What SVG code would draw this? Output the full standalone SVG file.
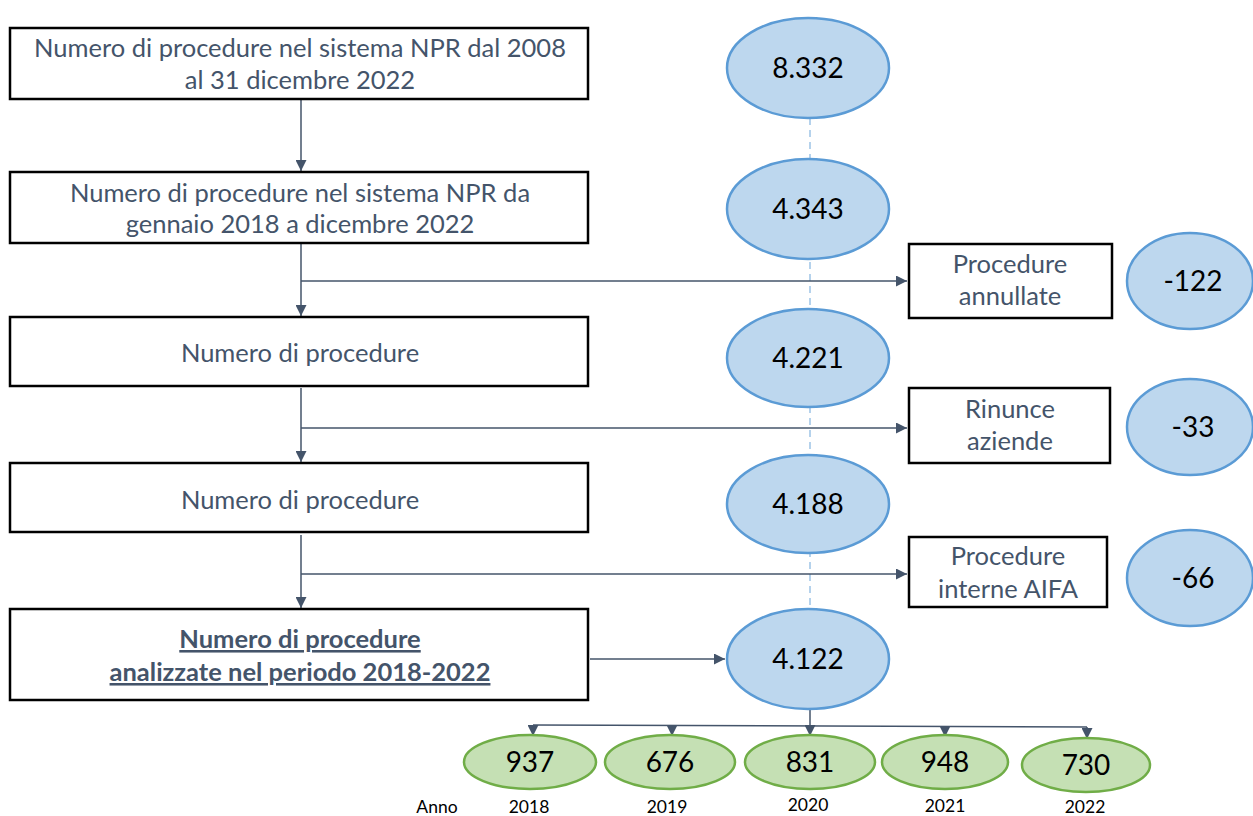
<svg xmlns="http://www.w3.org/2000/svg" width="1253" height="816" viewBox="0 0 1253 816">
<defs>
<marker id="ah" viewBox="0 0 10 10" refX="10" refY="5" markerWidth="11" markerHeight="11" markerUnits="userSpaceOnUse" orient="auto">
<path d="M0,0 L10,5 L0,10 z" fill="#44546a"/>
</marker>
<style>
.box{fill:#fff;stroke:#000;stroke-width:2.5}
.bt{font-family:Lato,"Liberation Sans",sans-serif;font-size:25.5px;fill:#44546a;text-anchor:middle}
.bold{font-weight:bold;text-decoration:underline}
.be{fill:#bdd7ee;stroke:#5b9bd5;stroke-width:2.5}
.ge{fill:#c5e0b4;stroke:#70ad47;stroke-width:2.5}
.num{font-family:Lato,"Liberation Sans",sans-serif;font-size:28px;fill:#000;text-anchor:middle}
.gnum{font-family:Lato,"Liberation Sans",sans-serif;font-size:28px;fill:#000;text-anchor:middle}
.yr{font-family:Lato,"Liberation Sans",sans-serif;font-size:17.5px;fill:#000;text-anchor:middle}
.ln{stroke:#44546a;stroke-width:1.5;fill:none}
.dash{stroke:#9dc3e6;stroke-width:1.5;stroke-dasharray:7,5;fill:none}
</style>
</defs>
<rect width="1253" height="816" fill="#fff"/>

<g id="connectors">
<line class="dash" x1="810" y1="118" x2="810" y2="610"/>
<line class="ln" x1="301" y1="99" x2="301" y2="171" marker-end="url(#ah)"/>
<line class="ln" x1="301" y1="243" x2="301" y2="316" marker-end="url(#ah)"/>
<line class="ln" x1="301" y1="281" x2="907" y2="281" marker-end="url(#ah)"/>
<line class="ln" x1="301" y1="388" x2="301" y2="462" marker-end="url(#ah)"/>
<line class="ln" x1="301" y1="428" x2="907" y2="428" marker-end="url(#ah)"/>
<line class="ln" x1="301" y1="535" x2="301" y2="608" marker-end="url(#ah)"/>
<line class="ln" x1="301" y1="574" x2="907" y2="574" marker-end="url(#ah)"/>
<line class="ln" x1="590" y1="659" x2="725" y2="659" marker-end="url(#ah)"/>
<line class="ln" x1="810" y1="710" x2="810" y2="736" marker-end="url(#ah)"/>
<line class="ln" x1="533" y1="725" x2="1087" y2="727"/>
<line class="ln" x1="533" y1="725" x2="533" y2="736" marker-end="url(#ah)"/>
<line class="ln" x1="672" y1="725" x2="672" y2="736" marker-end="url(#ah)"/>
<line class="ln" x1="945" y1="726" x2="945" y2="737" marker-end="url(#ah)"/>
<line class="ln" x1="1087" y1="727" x2="1087" y2="739" marker-end="url(#ah)"/>
</g>

<g id="box1"><rect class="box" x="10" y="28" width="578" height="71"/>
<text class="bt" x="300" y="57">Numero di procedure nel sistema NPR dal 2008</text>
<text class="bt" x="300" y="89">al 31 dicembre 2022</text></g>
<g id="box2"><rect class="box" x="10" y="172" width="578" height="71"/>
<text class="bt" x="300" y="202">Numero di procedure nel sistema NPR da</text>
<text class="bt" x="300" y="233">gennaio 2018 a dicembre 2022</text></g>
<g id="box3"><rect class="box" x="10" y="317" width="578" height="69"/>
<text class="bt" x="300" y="362">Numero di procedure</text></g>
<g id="box4"><rect class="box" x="10" y="463" width="578" height="69"/>
<text class="bt" x="300" y="509">Numero di procedure</text></g>
<g id="box5"><rect class="box" x="10" y="609" width="578" height="91"/>
<text class="bt bold" x="300" y="648">Numero di procedure</text>
<text class="bt bold" x="300" y="681">analizzate nel periodo 2018-2022</text></g>

<g id="annullate"><rect class="box" x="909" y="244" width="203" height="74"/>
<text class="bt" x="1010" y="273">Procedure</text>
<text class="bt" x="1010" y="305">annullate</text></g>
<g id="rinunce"><rect class="box" x="909" y="388" width="201" height="75"/>
<text class="bt" x="1010" y="418">Rinunce</text>
<text class="bt" x="1010" y="450">aziende</text></g>
<g id="interne"><rect class="box" x="909" y="537" width="198" height="70"/>
<text class="bt" x="1008" y="565">Procedure</text>
<text class="bt" x="1008" y="598">interne AIFA</text></g>

<g id="e8332"><ellipse class="be" cx="808" cy="68" rx="81" ry="50"/><text class="num" x="808" y="78">8.332</text></g>
<g id="e4343"><ellipse class="be" cx="808" cy="209" rx="81" ry="50"/><text class="num" x="808" y="219">4.343</text></g>
<g id="e4221"><ellipse class="be" cx="808" cy="358" rx="81" ry="49"/><text class="num" x="808" y="368">4.221</text></g>
<g id="e4188"><ellipse class="be" cx="808" cy="504" rx="81" ry="49"/><text class="num" x="808" y="514">4.188</text></g>
<g id="e4122"><ellipse class="be" cx="808" cy="659" rx="81" ry="50"/><text class="num" x="808" y="669">4.122</text></g>

<g id="e122"><ellipse class="be" cx="1190" cy="281" rx="63" ry="48"/><text class="num" x="1193" y="291">-122</text></g>
<g id="e33"><ellipse class="be" cx="1190" cy="427" rx="63" ry="48"/><text class="num" x="1193" y="437">-33</text></g>
<g id="e66"><ellipse class="be" cx="1190" cy="578" rx="63" ry="48"/><text class="num" x="1193" y="588">-66</text></g>

<g id="g2018"><ellipse class="ge" cx="530" cy="762" rx="66" ry="27"/><text class="gnum" x="530" y="772">937</text></g>
<g id="g2019"><ellipse class="ge" cx="670" cy="762" rx="65" ry="27"/><text class="gnum" x="670" y="772">676</text></g>
<g id="g2020"><ellipse class="ge" cx="810" cy="762" rx="65" ry="27"/><text class="gnum" x="810" y="772">831</text></g>
<g id="g2021"><ellipse class="ge" cx="945" cy="762" rx="63" ry="27"/><text class="gnum" x="945" y="772">948</text></g>
<g id="g2022"><ellipse class="ge" cx="1086" cy="765" rx="64" ry="27"/><text class="gnum" x="1086" y="775">730</text></g>

<g id="years">
<text class="yr" x="437" y="813">Anno</text>
<text class="yr" x="529" y="813">2018</text>
<text class="yr" x="667" y="813">2019</text>
<text class="yr" x="808" y="811">2020</text>
<text class="yr" x="945" y="812">2021</text>
<text class="yr" x="1085" y="813">2022</text>
</g>
</svg>
